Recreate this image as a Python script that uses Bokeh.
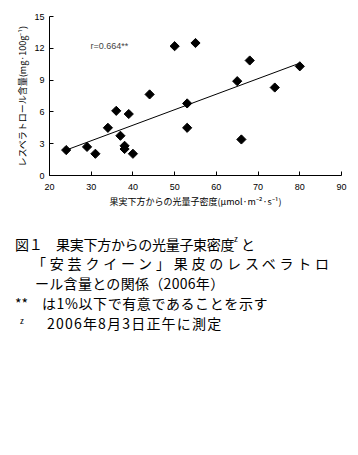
import numpy as np
from bokeh.plotting import figure
from bokeh.models import Range1d, Label, Div, FixedTicker
from bokeh.layouts import column
from bokeh.embed import file_html
from bokeh.resources import INLINE

# data
light = [24, 29, 31, 34, 36, 37, 38, 38, 39, 40, 44, 50, 53, 53, 55, 65, 66, 68, 74, 80]
resveratrol = [2.4, 2.7, 2.05, 4.5, 6.1, 3.75, 2.8, 2.5, 5.8, 2.05, 7.65, 12.2, 6.8, 4.5, 12.5, 8.9, 3.4, 10.85, 8.3, 10.3]
trend_x = [24, 80]
trend_y = [2.4, 10.6]
x_ticks = [20, 30, 40, 50, 60, 70, 80, 90]
y_ticks = [0, 3, 6, 9, 12, 15]
r_text = "r=0.664**"
x_label = "果実下方からの光量子密度(μmol·m⁻²·s⁻¹)"
y_label = "レスベラトロール含量(mg·100g⁻¹)"
caption_lines = [
    "図１　果実下方からの光量子束密度",
    "z",
    "と",
    "「安芸クイーン」果皮のレスベラトロ",
    "ール含量との関係（2006年）",
    "**",
    "は1%以下で有意であることを示す",
    "z",
    "2006年8月3日正午に測定",
]

JP = "Noto Sans CJK JP"

p = figure(width=350, height=213, x_range=Range1d(20, 90), y_range=Range1d(0, 15),
           output_backend="svg", toolbar_location=None,
           min_border_left=49, min_border_right=9, min_border_top=16, min_border_bottom=38)
p.outline_line_color = None
p.xgrid.visible = False
p.ygrid.visible = False
p.background_fill_color = "white"
p.border_fill_color = "white"

for ax, ticks in ((p.xaxis, x_ticks), (p.yaxis, y_ticks)):
    ax.ticker = FixedTicker(ticks=ticks)
    ax.major_tick_in = 4
    ax.major_tick_out = 0
    ax.minor_tick_line_color = None
    ax.axis_line_color = "black"
    ax.major_tick_line_color = "black"
    ax.major_label_text_font = "Liberation Sans"
    ax.major_label_text_font_size = "9px"
    ax.major_label_text_color = "black"
    ax.axis_label_text_font = JP
    ax.axis_label_text_font_size = "9px"
    ax.axis_label_text_font_style = "normal"
    ax.axis_label_text_color = "black"

p.xaxis.axis_label = x_label
p.yaxis.axis_label = y_label
p.xaxis.major_label_standoff = 8
p.xaxis.axis_label_standoff = 2
p.yaxis.major_label_standoff = 5
p.yaxis.axis_label_standoff = 2

p.line(trend_x, trend_y, line_color="black", line_width=1)
p.scatter(light, resveratrol, marker="square", angle=np.pi / 4, size=6.5, color="black")

p.add_layout(Label(x=29.8, y=12.2, text=r_text, text_font="Liberation Sans",
                   text_font_size="9px", text_baseline="middle", text_align="left"))

tops = [24, 22, 24, 43, 63, 83, 83, 104, 103]
lefts = [15, 234, 241, 32, 35, 15, 42, 20, 47]
sizes = [14, 8, 14, 14, 14, 14, 14, 8, 14]
spacing = [-0.3, 0, 0, 3.8, 0.3, 0, 0.6, 0, 1.2]
spans = []
for t, l, s, ls, txt in zip(tops, lefts, sizes, spacing, caption_lines):
    spans.append(
        f"<div style='position:absolute;top:{t}px;left:{l}px;font-size:{s}px;"
        f"line-height:{s}px;letter-spacing:{ls}px;white-space:nowrap;color:black;"
        f"font-family:\"{JP}\";'>{txt}</div>")
div = Div(text="<div style='position:relative;width:350px;height:125px;'>" + "".join(spans) + "</div>",
          width=350, height=125, margin=(0, 0, 0, 0))

layout = column(p, div, spacing=0)
open("out.html", "w").write(file_html(layout, INLINE))
